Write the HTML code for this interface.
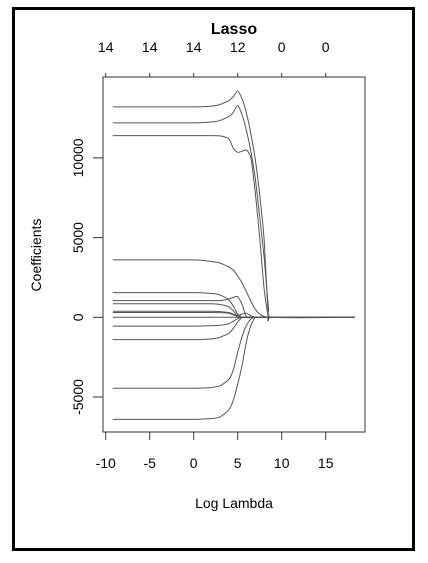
<!DOCTYPE html>
<html><head><meta charset="utf-8"><style>
body{margin:0;background:#fff}
svg{display:block;font-family:"Liberation Sans",Arial,sans-serif}
</style></head><body>
<svg id="chart" width="428" height="563" viewBox="0 0 428 563">
<rect x="13.5" y="8.5" width="400" height="541" fill="none" stroke="#000" stroke-width="3"/>
<text x="234" y="34" text-anchor="middle" font-size="16" font-weight="bold">Lasso</text>
<text x="234" y="508" text-anchor="middle" font-size="14">Log Lambda</text>
<text transform="translate(41,255) rotate(-90)" text-anchor="middle" font-size="14">Coefficients</text>
<rect x="103" y="77" width="262" height="355" fill="none" stroke="#333" stroke-width="1"/>
<g id="axes"></g>
<g id="series"></g>
</svg>
<script>
const xTicks=[-10,-5,0,5,10,15];
const topLabels=["14","14","14","12","0","0"];
const yTicks=[-5000,0,5000,10000];
const lambdas=[-9.2,0,2,3,4,4.5,5,5.5,6,6.5,7,7.5,8,8.5,9,18.3];
const s1=[13200,13200,13250,13350,13600,13850,14200,13700,12800,11500,9900,7700,4900,0,0,0];
const s2=[12200,12200,12250,12350,12600,12850,13300,12700,11700,10400,8700,6300,3800,600,0,0];
const s3=[11400,11400,11400,11380,11200,10600,10350,10420,10500,10000,7800,5000,1800,0,0,0];
const s4=[3600,3600,3500,3400,3150,2950,2600,2150,1600,1000,500,200,50,0,0,0];
const s5=[1550,1550,1500,1400,1100,700,200,0,0,0,0,0,0,0,0,0];
const s6=[1050,1050,1050,1050,1150,1250,1300,800,0,0,0,0,0,0,0,0];
const s7=[850,850,850,800,650,400,100,0,0,0,0,0,0,0,0,0];
const s8=[380,380,380,360,300,200,80,200,250,100,0,0,0,0,0,0];
const s9=[300,300,300,290,250,150,50,0,0,0,0,0,0,0,0,0];
const s10=[0,0,0,0,0,0,0,0,0,0,0,0,0,0,0,0];
const s11=[-550,-550,-530,-500,-400,-250,-80,0,0,0,0,0,0,0,0,0];
const s12=[-1400,-1400,-1350,-1250,-1000,-700,-300,0,0,0,0,0,0,0,0,0];
const s13=[-4450,-4450,-4400,-4300,-3900,-3300,-2200,-1200,-500,-100,0,0,0,0,0,0];
const s14=[-6400,-6400,-6350,-6250,-5800,-5200,-4200,-3000,-1500,-500,0,0,0,0,0,0];
const allSeries=[s1,s2,s3,s4,s5,s6,s7,s8,s9,s10,s11,s12,s13,s14];
const NS="http://www.w3.org/2000/svg";
function xs(v){return 105.7+(v+10)*8.8;}
function ys(v){return 317.3-v*0.01594;}
const axes=document.getElementById('axes');
function mk(tag,attrs,parent){const e=document.createElementNS(NS,tag);for(const k in attrs)e.setAttribute(k,attrs[k]);parent.appendChild(e);return e;}
xTicks.forEach((t,i)=>{
  const x=xs(t);
  const b=mk('line',{x1:x,x2:x,y1:432,y2:440,stroke:'#333'},axes);
  
  
  const l=mk('text',{x:x,y:468,'text-anchor':'middle','font-size':'14'},axes);l.textContent=String(t);
  
  
  const tt=mk('line',{x1:x,x2:x,y1:77,y2:73,stroke:'#333'},axes);
  
  
  const tl=mk('text',{x:x,y:52,'text-anchor':'middle','font-size':'14'},axes);tl.textContent=topLabels[i];
  
  
});
yTicks.forEach(t=>{
  const y=ys(t);
  const k=mk('line',{x1:93,x2:103,y1:y,y2:y,stroke:'#333'},axes);
  
  
  const l=mk('text',{transform:`translate(83,${y}) rotate(-90)`,'text-anchor':'middle','font-size':'14'},axes);l.textContent=String(t);
  
  
});
const sg=document.getElementById('series');
allSeries.forEach((s,si)=>{
  const pts=s.map((v,i)=>[xs(lambdas[i]),ys(v)]);
  let d=`M${pts[0][0]},${pts[0][1]}`;
  for(let i=0;i<pts.length-1;i++){
    const p0=pts[Math.max(0,i-1)],p1=pts[i],p2=pts[i+1],p3=pts[Math.min(pts.length-1,i+2)];
    const c1=[p1[0]+(p2[0]-p0[0])/10,p1[1]+(p2[1]-p0[1])/10];
    const c2=[p2[0]-(p3[0]-p1[0])/10,p2[1]-(p3[1]-p1[1])/10];
    d+=` C${c1[0]},${c1[1]} ${c2[0]},${c2[1]} ${p2[0]},${p2[1]}`;
  }
  const p=mk('path',{d:d,fill:'none',stroke:'#555','stroke-width':'1'},sg);
  
  
});
</script>
</body></html>
